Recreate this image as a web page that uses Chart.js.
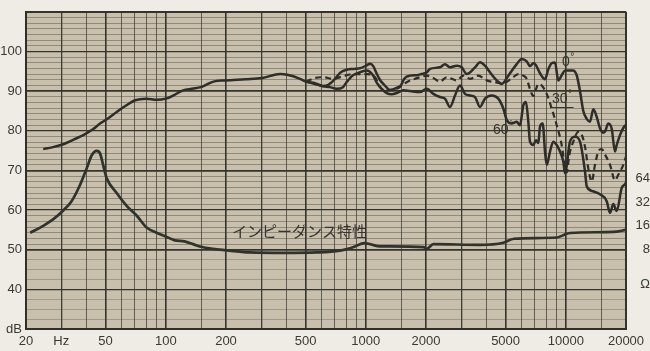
<!DOCTYPE html>
<html><head><meta charset="utf-8">
<script src="https://cdn.jsdelivr.net/npm/chart.js@4.4.1/dist/chart.umd.min.js"></script>
<style>html,body{margin:0;padding:0;background:#efece6;}canvas{display:block;}</style>
</head><body>
<canvas id="c" width="650" height="351"></canvas>
<script>
// ---- Data ----
const freq0 = [24.4,27,30.7,34,38.7,43,46.9,52,56.8,63,70.2,80,90,100,110,122,135,150,173,198,250,303,373,405,469,502,557,611,650,700,743,803,868,940,1010,1050,1090,1120,1178,1240,1321,1427,1500,1560,1664,1800,1900,2016,2094,2350,2489,2636,2848,3016,3195,3516,3724,3945,4178,4514,4782,5160,5683,6019,6377,6622,6880,7096,7430,7871,8178,8504,8831,9173,9538,9910,10496,10866,11339,11776,12232,12722,13213,13725,14273,14825,15348,15704,16312,16965,17620,17970,18665,19543,20000];
const spl0 = [75.4,75.8,76.6,77.6,78.9,80.3,81.8,83.3,84.75,86.3,87.7,88.1,87.8,88.1,89.0,90.2,90.6,91.0,92.4,92.7,93.0,93.3,94.3,94.1,93.1,92.4,92.0,91.3,91.6,93.0,94.6,95.4,95.6,95.8,96.5,96.9,96.3,95.0,92.8,91.5,90.3,90.8,91.5,93.2,93.9,94.0,94.3,94.7,95.6,96.0,96.8,96.0,96.4,96.0,94.3,96.0,97.25,96.4,94.75,92.7,91.8,93.9,96.8,98.1,97.5,96.3,97.0,96.5,94.5,93.0,95.5,97.0,97.2,92.7,94.0,95.2,95.2,95.2,94.0,90.0,85.0,83.0,82.3,85.4,83.5,80.6,79.5,79.8,81.8,80.5,74.75,76.4,78.9,81.0,81.5];

const freq30 = [502,557,611,686,769,863,1010,1112,1178,1272,1427,1602,1866,2016,2176,2350,2538,2848,3074,3320,3653,4022,4426,4872,5366,5788,6131,6377,6622,6880,7096,7288,7577,8028,8504,9006,9538,9910,10106,10413,10904,11550,12008,12474,12958,13475,13996,14539,15119,15704,16636,17620,18303,19390,20000];
const spl30 = [92.4,93.3,93.5,93.1,93.75,94.3,94.3,93.5,91.0,90.2,90.6,92.25,93.5,93.9,93.3,92.4,93.5,92.7,93.9,93.1,93.9,92.7,92.25,92.0,93.2,94.3,93.9,93.1,90.5,88.8,90.5,91.8,91.4,89.3,85.6,81.4,76.4,70.6,69.5,73.9,77.25,79.75,79.0,76.0,70.5,67.2,71.4,74.75,75.4,74.0,71.4,67.5,68.9,71.4,73.5];

const freq60 = [502,557,611,662,715,769,803,863,968,1010,1087,1138,1205,1272,1348,1427,1540,1664,1866,2016,2176,2350,2489,2636,2793,2958,3133,3320,3516,3724,3945,4262,4598,4872,5066,5366,5683,5902,6131,6325,6496,6622,6880,7096,7288,7430,7664,7871,8028,8337,8661,9006,9354,9716,9910,10496,11117,11776,12474,12722,13677,14825,16015,16636,17282,17970,19036,19771,20000];
const spl60 = [92.4,91.8,91.2,91.0,90.6,91.0,92.3,94.0,95.0,95.2,94.0,92.0,90.5,89.5,89.2,89.5,90.2,90.0,89.75,90.6,89.3,88.5,88.1,86.0,88.9,91.4,89.3,88.9,88.5,86.0,88.1,88.9,88.1,85.6,82.7,81.8,82.25,81.4,86.4,87.25,82.25,77.25,76.4,77.6,76.9,81.0,81.8,74.75,71.4,74.75,77.25,76.4,74.75,72.25,69.3,77.25,78.5,77.25,69.75,66.0,64.75,64.0,62.25,59.3,61.5,59.75,65.6,66.5,67.0];

const freqZ = [21,24.4,27.4,30.7,33.8,37,40,42.7,45.1,46.9,48.6,50.6,56.8,63.9,71.8,80.2,90,101,111,124,137,150,172,197,263,387,569,742,864,986,1050,1178,1321,1947,2016,2176,3724,4872,5505,9006,9716,10496,17282,20000];
const ohmZ = [13.1,16.0,19.4,25.0,32.7,50.5,81.8,125,141,131,94,64.3,41.5,28.4,21.3,15.2,13.1,11.6,10.5,10.2,9.4,8.7,8.2,7.9,7.4,7.3,7.4,7.8,8.6,9.7,9.4,8.8,8.8,8.6,8.2,9.4,9.2,9.8,11.0,11.4,12.2,13.0,13.4,14.2];

// ---- Tick labels / grid values ----
const xGridFreqs = [20,30,40,50,60,70,80,90,100,150,200,300,400,500,600,700,800,900,1000,1500,2000,3000,4000,5000,6000,7000,8000,9000,10000,15000,20000];
const xTickValues = [20,30,50,100,200,500,1000,2000,5000,10000,20000];
const xTickTexts  = ['20','Hz','50','100','200','500','1000','2000','5000','10000','20000'];
const yTickValues = [30,40,50,60,70,80,90,100];
const yTickTexts  = ['dB','40','50','60','70','80','90','100'];
const ohmTickValues = [2.9,8,16,32,64];
const ohmTickTexts  = ['Ω','8','16','32','64'];
const curveNames = ['0°','30°','60°','インピーダンス特性'];

// ---- helpers ----
const pts = (xs, ys) => xs.map((x,i)=>({x:x, y:ys[i]}));
const near = (a,b) => Math.abs(a-b) < 1e-6;
const yGrid = [];
for (let d = 30; d <= 110 + 1e-9; d += 10) {
  yGrid.push(d);
  if (d < 110) {
    const n = d >= 50 ? 7 : 4;
    for (let k = 1; k < n; k++) yGrid.push(d + k*10/n);
  }
}
const xMajor = new Set([20,50,100,200,500,1000,2000,5000,10000,20000]);
const xMedium = new Set([30,300,3000]);

const ink = '#2e2d28';
const fontFam = '"Liberation Sans", Arial, sans-serif';

const plotBg = {
  id:'plotBg',
  beforeDraw(chart){
    const {ctx, chartArea:a} = chart;
    ctx.save();
    ctx.fillStyle = '#efece6';
    ctx.fillRect(0,0,chart.width,chart.height);
    ctx.fillStyle = '#c8bfad';
    ctx.fillRect(a.left,a.top,a.right-a.left,a.bottom-a.top);
    ctx.restore();
  }
};

// annotation anchors in data coordinates (left edge frequency, level in dB)
const annoFreq = [9572, 8531, 4326, 214];
const annoLevel = [97.25, 88, 80.25, 54.75];
const annotate = {
  id:'annotate',
  afterDatasetsDraw(chart){
    const {ctx} = chart;
    const sx = chart.scales.x, sy = chart.scales.y;
    ctx.save();
    ctx.fillStyle = '#35342e';
    ctx.textBaseline = 'middle';
    ctx.textAlign = 'left';
    for (let i = 0; i < 3; i++) {
      const x = sx.getPixelForValue(annoFreq[i]);
      const y = sy.getPixelForValue(annoLevel[i]);
      const t = curveNames[i];
      const num = t.replace('°','');
      ctx.font = '14px ' + fontFam;
      ctx.fillText(num, x, y);
      const w = ctx.measureText(num).width;
      ctx.font = '10px ' + fontFam;
      ctx.fillText('°', x + w + 0.5, y - 5);
      if (i === 1) {
        ctx.strokeStyle = '#35342e';
        ctx.lineWidth = 1;
        ctx.beginPath();
        ctx.moveTo(x - 2, y + 8.5);
        ctx.lineTo(x + w + 6, y + 8.5);
        ctx.stroke();
      }
    }
    ctx.font = '15px "Noto Sans CJK JP", sans-serif';
    ctx.fillText(curveNames[3], sx.getPixelForValue(annoFreq[3]), sy.getPixelForValue(annoLevel[3]));
    ctx.restore();
  }
};

const lineStyle = {pointRadius:0, borderColor:ink, borderWidth:2.5, cubicInterpolationMode:'monotone', fill:false};

new Chart(document.getElementById('c'), {
  type:'line',
  data:{datasets:[
    Object.assign({label:curveNames[0], data:pts(freq0,spl0), yAxisID:'y'}, lineStyle),
    Object.assign({label:curveNames[1], data:pts(freq30,spl30), yAxisID:'y'}, lineStyle, {borderDash:[6,4], borderWidth:2.2}),
    Object.assign({label:curveNames[2], data:pts(freq60,spl60), yAxisID:'y'}, lineStyle),
    Object.assign({label:curveNames[3], data:pts(freqZ,ohmZ), yAxisID:'y2'}, lineStyle, {borderColor:'#30332b', borderWidth:2.7})
  ]},
  options:{
    responsive:false, animation:false, devicePixelRatio:1,
    layout:{padding:{top:9,left:0,right:0,bottom:0}},
    plugins:{legend:{display:false}, tooltip:{enabled:false}},
    scales:{
      x:{
        type:'logarithmic', min:20, max:20000,
        afterBuildTicks:s=>{ s.ticks = xGridFreqs.map(v=>({value:v})); },
        afterFit:s=>{ s.height = 22; },
        ticks:{autoSkip:false, maxRotation:0, minRotation:0, padding:5, color:'#3a3934',
          font:{family:fontFam, size:13},
          callback:(v)=>{ const i = xTickValues.indexOf(v); return i >= 0 ? xTickTexts[i] : ''; }},
        grid:{drawTicks:false,
          color:c=>{ const v=c.tick&&c.tick.value; return xMajor.has(v)?'#34332c':(xMedium.has(v)?'#3e3d35':'rgba(58,56,48,0.8)'); },
          lineWidth:c=>{ const v=c.tick&&c.tick.value; if(v===20||v===20000) return 2; return xMajor.has(v)?1.6:(xMedium.has(v)?1.3:0.9); }},
        border:{display:true, color:'#2f2e29', width:2}
      },
      y:{
        type:'linear', position:'left', min:30, max:110,
        afterBuildTicks:s=>{ s.ticks = yGrid.map(v=>({value:v})); },
        afterFit:s=>{ s.width = 26; },
        ticks:{autoSkip:false, padding:4, color:'#3a3934', font:{family:fontFam, size:13},
          callback:(v)=>{ const i = yTickValues.findIndex(t=>near(t,v)); return i >= 0 ? yTickTexts[i] : ''; }},
        grid:{drawTicks:false,
          color:c=>{ const v=c.tick.value; const major = Math.abs(v/10-Math.round(v/10))<1e-6; if(!major) return v<50?'rgba(60,58,50,0.35)':'rgba(60,58,50,0.5)'; return '#34332c'; },
          lineWidth:c=>{ const v=c.tick.value; const r=Math.round(v); const major = Math.abs(v/10-Math.round(v/10))<1e-6; if(!major) return 0.8; if(r===30||r===110) return 2; if(r===50||r===70||r===90) return 1.8; return 1.2; }},
        border:{display:true, color:'#2f2e29', width:2}
      },
      y2:{
        type:'logarithmic', position:'right', min:0.8, max:8000,
        afterBuildTicks:s=>{ s.ticks = ohmTickValues.map(v=>({value:v})); },
        afterFit:s=>{ s.width = 24; },
        ticks:{autoSkip:false, crossAlign:'far', padding:4, color:'#3a3934', font:{family:fontFam, size:13},
          callback:(v)=>{ const i = ohmTickValues.findIndex(t=>near(t,v)); return i >= 0 ? ohmTickTexts[i] : ''; }},
        grid:{display:false, drawOnChartArea:false, drawTicks:false},
        border:{display:false}
      }
    }
  },
  plugins:[plotBg, annotate]
});
</script>
</body></html>
